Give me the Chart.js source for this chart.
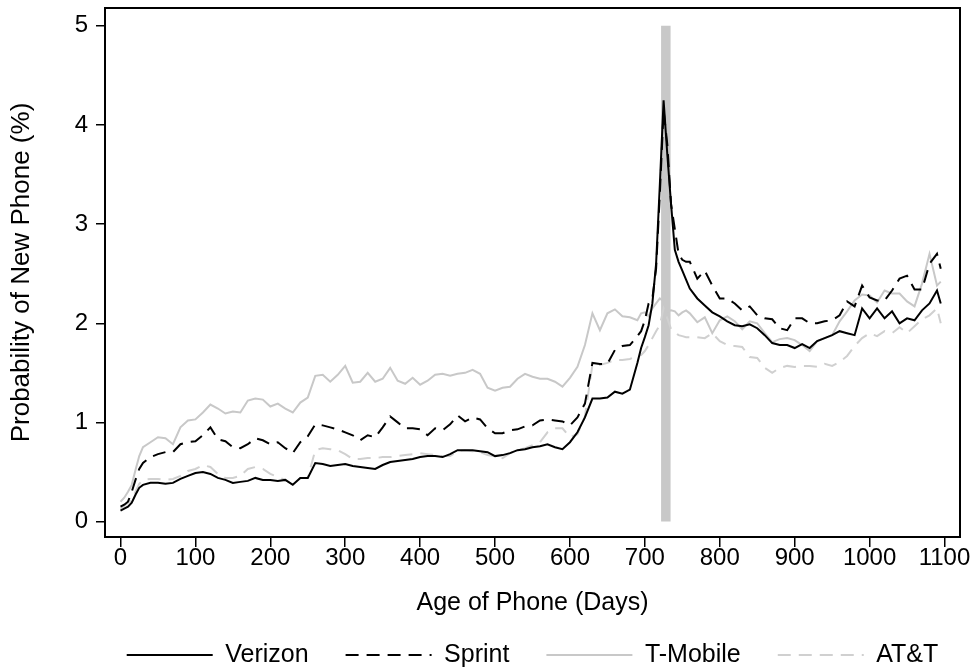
<!DOCTYPE html>
<html>
<head>
<meta charset="utf-8">
<title>Probability of New Phone by Age of Phone</title>
<script src="https://cdn.jsdelivr.net/npm/chart.js@4.4.1/dist/chart.umd.min.js"></script>
<style>
  body { margin: 0; background: #fff; }
  canvas { display: block; }
</style>
</head>
<body>
<canvas id="phoneAgeChart" width="977" height="672"></canvas>
<script>
// Age of phone in days (sampled more densely around the two-year mark)
const days = [
    0, 5, 10, 15, 20, 25, 30,
    40, 50, 60, 70, 80, 90, 100, 110, 120, 130,
    140, 150, 160, 170, 180, 190, 200, 210, 220, 230,
    240, 250, 260, 270, 280, 290, 300, 310, 320, 330,
    340, 350, 360, 370, 380, 390, 400, 410, 420, 430,
    440, 450, 460, 470, 480, 490, 500, 510, 520, 530,
    540, 550, 560, 570, 580, 590, 600, 610, 620, 630,
    640, 650, 660, 670, 680, 690,
    695, 700, 705, 710, 715, 720, 725, 730, 735, 740, 745, 750, 755, 760,
    770, 780, 790, 800, 810, 820, 830, 840, 850, 860,
    870, 880, 890, 900, 910, 920, 930, 940, 950, 960,
    970, 980, 990, 1000, 1010, 1020, 1030, 1040, 1050, 1060,
    1070, 1080, 1090, 1095
];

// Probability of a new phone (%), one value per day above
const verizon = [
    0.11, 0.13, 0.15, 0.19, 0.27, 0.34, 0.37,
    0.39, 0.39, 0.38, 0.39, 0.43, 0.46, 0.49, 0.50, 0.48, 0.44,
    0.42, 0.39, 0.40, 0.41, 0.44, 0.42, 0.42, 0.41, 0.42, 0.37,
    0.44, 0.44, 0.59, 0.58, 0.56, 0.57, 0.58, 0.56, 0.55, 0.54,
    0.53, 0.57, 0.60, 0.61, 0.62, 0.63, 0.65, 0.66, 0.66, 0.65,
    0.68, 0.72, 0.72, 0.72, 0.71, 0.70, 0.66, 0.67, 0.69, 0.72,
    0.73, 0.75, 0.76, 0.78, 0.75, 0.73, 0.80, 0.90, 1.05, 1.24,
    1.24, 1.25, 1.31, 1.29, 1.33, 1.60,
    1.75, 1.86, 1.98, 2.20, 2.60, 3.40, 4.25, 3.70, 3.20, 2.74, 2.62, 2.53, 2.44, 2.35,
    2.25, 2.18, 2.11, 2.07, 2.02, 1.98, 1.97, 1.99, 1.95, 1.88,
    1.80, 1.78, 1.78, 1.75, 1.79, 1.75, 1.82, 1.85, 1.88, 1.92,
    1.90, 1.88, 2.15, 2.05, 2.15, 2.05, 2.12, 2.00, 2.05, 2.03,
    2.13, 2.20, 2.33, 2.20
];

const sprint = [
    0.15, 0.17, 0.20, 0.30, 0.42, 0.53, 0.59,
    0.65, 0.68, 0.70, 0.70, 0.78, 0.80, 0.81, 0.87, 0.95, 0.83,
    0.81, 0.75, 0.74, 0.78, 0.84, 0.82, 0.78, 0.80, 0.74, 0.69,
    0.80, 0.86, 0.98, 0.97, 0.95, 0.93, 0.90, 0.87, 0.82, 0.87,
    0.85, 0.95, 1.06, 1.00, 0.94, 0.94, 0.93, 0.87, 0.94, 0.92,
    0.98, 1.07, 1.01, 1.05, 1.03, 0.94, 0.89, 0.89, 0.92, 0.93,
    0.96, 0.97, 1.02, 1.03, 1.02, 1.01, 0.97, 1.05, 1.19, 1.60,
    1.59, 1.59, 1.73, 1.77, 1.78, 1.87,
    1.92, 2.03, 2.20, 2.25, 2.55, 3.30, 4.15, 3.80, 3.20, 2.95, 2.70, 2.64, 2.62, 2.62,
    2.45, 2.53, 2.38, 2.25, 2.25, 2.20, 2.13, 2.17, 2.08, 2.05,
    2.04, 1.95, 1.93, 2.05, 2.05, 2.00, 2.00, 2.02, 2.03, 2.08,
    2.22, 2.17, 2.38, 2.26, 2.23, 2.23, 2.33, 2.45, 2.48, 2.34,
    2.34, 2.60, 2.70, 2.55
];

const tMobile = [
    0.20, 0.24, 0.30, 0.37, 0.52, 0.66, 0.75,
    0.80, 0.85, 0.84, 0.78, 0.95, 1.02, 1.03, 1.10, 1.18, 1.14,
    1.09, 1.11, 1.10, 1.22, 1.24, 1.23, 1.16, 1.19, 1.14, 1.10,
    1.20, 1.25, 1.47, 1.48, 1.41, 1.48, 1.57, 1.40, 1.41, 1.50,
    1.41, 1.44, 1.55, 1.42, 1.39, 1.45, 1.38, 1.42, 1.48, 1.49,
    1.47, 1.49, 1.50, 1.53, 1.49, 1.35, 1.32, 1.35, 1.36, 1.44,
    1.49, 1.46, 1.44, 1.44, 1.41, 1.36, 1.45, 1.56, 1.78, 2.10,
    1.93, 2.10, 2.14, 2.07, 2.06, 2.03,
    2.10, 2.11, 2.07, 2.15, 2.20, 2.25, 2.22, 2.12, 2.13, 2.12, 2.08, 2.11, 2.13, 2.10,
    2.01, 2.06, 1.90, 2.03, 2.07, 2.02, 1.94, 2.02, 2.00, 1.90,
    1.81, 1.84, 1.85, 1.83, 1.78, 1.72, 1.82, 1.85, 1.88, 2.02,
    2.12, 2.23, 2.29, 2.28, 2.21, 2.33, 2.30, 2.30, 2.22, 2.17,
    2.40, 2.70, 2.38, 2.42
];

const att = [
    0.13, 0.16, 0.19, 0.22, 0.30, 0.38, 0.42,
    0.43, 0.43, 0.42, 0.43, 0.46, 0.51, 0.53, 0.57, 0.55, 0.48,
    0.44, 0.44, 0.46, 0.53, 0.55, 0.53, 0.48, 0.45, 0.42, 0.37,
    0.44, 0.44, 0.72, 0.74, 0.73, 0.72, 0.68, 0.63, 0.63, 0.64,
    0.64, 0.65, 0.65, 0.66, 0.67, 0.68, 0.69, 0.68, 0.67, 0.66,
    0.66, 0.71, 0.72, 0.71, 0.70, 0.67, 0.66, 0.64, 0.69, 0.72,
    0.74, 0.77, 0.80, 0.90, 0.94, 0.94, 0.85, 0.88, 1.06, 1.58,
    1.58, 1.60, 1.63, 1.63, 1.64, 1.67,
    1.68, 1.72, 1.78, 1.85, 1.92, 1.98, 2.15, 2.05, 1.94, 1.91, 1.88, 1.87, 1.86, 1.86,
    1.86, 1.85, 1.90, 1.82, 1.78, 1.77, 1.76, 1.66, 1.65, 1.55,
    1.50, 1.55, 1.57, 1.56, 1.57, 1.57, 1.56, 1.59, 1.57, 1.61,
    1.67, 1.77, 1.85, 1.90, 1.87, 1.92, 1.90, 1.96, 1.90, 1.97,
    2.04, 2.08, 2.15, 2.00
];

// shaded marker at the end of a two-year contract
const markerDays = [728, 728];
const markerRange = [0, 5];

const xTicks = [0, 100, 200, 300, 400, 500, 600, 700, 800, 900, 1000, 1100];
const yTicks = [0, 1, 2, 3, 4, 5];

const toPoints = (xs, ys) => xs.map((x, i) => ({ x: x, y: ys[i] }));

Chart.defaults.font.family = '"Liberation Sans", Arial, Helvetica, sans-serif';
Chart.defaults.color = '#000';

// box around the plot region
const plotFrame = {
    id: 'plotFrame',
    afterDraw(chart) {
        const { ctx, chartArea } = chart;
        ctx.save();
        ctx.strokeStyle = '#000';
        ctx.lineWidth = 2;
        ctx.strokeRect(chartArea.left, chartArea.top,
            chartArea.right - chartArea.left, chartArea.bottom - chartArea.top);
        ctx.restore();
    }
};

const lineSeries = (label, values, color, dash) => ({
    label: label,
    data: toPoints(days, values),
    borderColor: color,
    backgroundColor: color,
    borderWidth: 2,
    borderDash: dash,
    pointRadius: 0,
    pointStyle: 'line',
    tension: 0
});

// legend samples are drawn as line segments carrying the series dash pattern
const legendLabels = chart => Chart.defaults.plugins.legend.labels.generateLabels(chart)
    .filter(item => item.text !== 'marker')
    .map(item => {
        const ds = chart.data.datasets[item.datasetIndex];
        item.strokeStyle = ds.borderColor;
        item.lineWidth = ds.borderWidth;
        item.lineDash = ds.borderDash;
        return item;
    });

const ctx = document.getElementById('phoneAgeChart').getContext('2d');
const phoneAgeChart = new Chart(ctx, {
    type: 'line',
    data: {
        datasets: [
            lineSeries('Verizon', verizon, '#000000', []),
            lineSeries('Sprint', sprint, '#000000', [13, 8]),
            lineSeries('T-Mobile', tMobile, '#c8c8c8', []),
            lineSeries('AT&T', att, '#d0d0d0', [13, 8]),
            {
                label: 'marker',
                data: toPoints(markerDays, markerRange),
                borderColor: '#c8c8c8',
                borderWidth: 9.5,
                borderCapStyle: 'butt',
                pointRadius: 0
            }
        ]
    },
    options: {
        responsive: false,
        animation: false,
        devicePixelRatio: 1,
        // the negative right padding centres the legend under the plot
        layout: {
            padding: { left: 0, right: -88, top: 8, bottom: -5.5 }
        },
        scales: {
            x: {
                type: 'linear',
                min: -20.7,
                max: 1120.7,
                afterBuildTicks: axis => { axis.ticks = xTicks.map(v => ({ value: v })); },
                afterFit: axis => {
                    axis.height = 68.5;
                    axis.paddingLeft = 0;
                    axis.paddingRight = 0;
                },
                border: { display: false },
                grid: {
                    drawOnChartArea: false,
                    color: '#000',
                    lineWidth: 1.5,
                    tickLength: 10
                },
                ticks: {
                    autoSkip: false,
                    maxRotation: 0,
                    padding: -1,
                    font: { size: 24, lineHeight: 1 },
                    callback: v => String(v)
                },
                title: {
                    display: true,
                    text: 'Age of Phone (Days)',
                    font: { size: 25, lineHeight: 1 },
                    padding: { top: 0, bottom: -10 }
                }
            },
            y: {
                type: 'linear',
                min: -0.156,
                max: 5.18,
                afterBuildTicks: axis => { axis.ticks = yTicks.map(v => ({ value: v })); },
                afterFit: axis => {
                    axis.width = 105;
                    axis.paddingTop = 0;
                    axis.paddingBottom = 0;
                },
                border: { display: false },
                grid: {
                    drawOnChartArea: false,
                    color: '#000',
                    lineWidth: 1.5,
                    tickLength: 9
                },
                ticks: {
                    padding: 8,
                    font: { size: 24, lineHeight: 1 },
                    callback: v => String(v)
                },
                title: {
                    display: true,
                    text: 'Probability of New Phone (%)',
                    font: { size: 26, lineHeight: 1 },
                    padding: { top: 9, bottom: 0 }
                }
            },
            // empty strip on the right that holds the plot's right margin
            yRight: {
                type: 'linear',
                position: 'right',
                afterFit: axis => {
                    axis.width = 105;
                    axis.paddingTop = 0;
                    axis.paddingBottom = 0;
                },
                border: { display: false },
                grid: { display: false },
                ticks: { display: false }
            }
        },
        plugins: {
            legend: {
                position: 'bottom',
                labels: {
                    usePointStyle: true,
                    pointStyle: 'line',
                    pointStyleWidth: 86,
                    padding: 37,
                    font: { size: 25 },
                    generateLabels: legendLabels
                }
            },
            tooltip: { enabled: false }
        }
    },
    plugins: [plotFrame]
});
</script>
</body>
</html>
